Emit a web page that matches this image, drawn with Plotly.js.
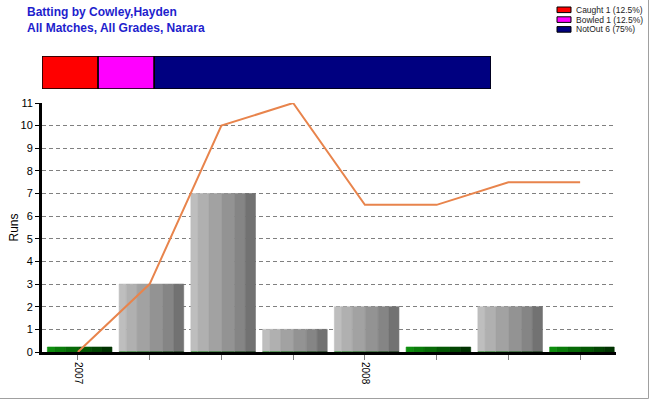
<!DOCTYPE html>
<html>
<head>
<meta charset="utf-8">
<script src="https://cdn.plot.ly/plotly-3.0.1.min.js"></script>
<style>html,body{margin:0;padding:0;background:#fff;}#chart{width:650px;height:400px;}</style>
</head>
<body>
<div id="chart"></div>
<script>
// ---- data ----
const titleLines = ['Batting by Cowley,Hayden', 'All Matches, All Grades, Narara'];
const tickLabels = ['2007', '', '', '', '2008', '', '', ''];
const runs = [0, 3, 7, 1, 2, 0, 2, 0];
const average = [0, 3, 10, 11, 6.5, 6.5, 7.5, 7.5];
const dismissalNames = ['Caught', 'Bowled', 'NotOut'];
const dismissalCounts = [1, 1, 6];
const dismissalColors = ['#FF0000', '#FF00FF', '#000080'];

// ---- styles ----
const greyStripes = ['#BEBEBE', '#B0B0B0', '#A2A2A2', '#939393', '#858585', '#727272'];
const greenStripes = ['#0E8E0E', '#0A7C0A', '#076A07', '#045804', '#024502', '#013301'];
const stripeWidths = [0.10, 0.15, 0.18, 0.18, 0.15, 0.14];
const zeroBarHeight = 0.22;
const FONT = 'Arial, "Liberation Sans", sans-serif';

const W = 650, H = 400, ML = 42, MR = 34, MT = 55, MB = 48;
const PW = W - ML - MR, PH = H - MT - MB;
const px2x = p => (p - ML) / PW;
const px2y = p => (H - MB - p) / PH;

const idx = runs.map((_, i) => i);
const traces = [];
let off = -0.425;
stripeWidths.forEach((w, s) => {
  traces.push({
    type: 'bar', x: idx, y: runs.map(v => v > 0 ? v : 0),
    width: w, offset: off, marker: {color: greyStripes[s], line: {width: 0.6, color: greyStripes[s]}},
    hoverinfo: 'skip', showlegend: false
  });
  traces.push({
    type: 'bar', x: idx, y: runs.map(v => v === 0 ? zeroBarHeight : 0),
    width: w, offset: off, marker: {color: greenStripes[s], line: {width: 0.6, color: greenStripes[s]}},
    hoverinfo: 'skip', showlegend: false
  });
  off += w;
});
traces.push({
  type: 'scatter', mode: 'lines', x: idx, y: average,
  line: {color: '#E8844C', width: 2}, hoverinfo: 'skip', showlegend: false
});

// top stacked dismissal bar
const total = dismissalCounts.reduce((a, b) => a + b, 0);
let base = 0;
dismissalCounts.forEach((c, i) => {
  traces.push({
    type: 'bar', orientation: 'h', x: [c], y: [0], base: [base], width: 1,
    xaxis: 'x2', yaxis: 'y2', cliponaxis: false,
    marker: {color: dismissalColors[i], line: {color: '#000', width: 1.5}},
    hoverinfo: 'skip', showlegend: false
  });
  base += c;
});

const shapes = [];
const annotations = [];
// title
titleLines.forEach((t, i) => {
  annotations.push({xref: 'paper', yref: 'paper', x: px2x(25), y: px2y(12.5 + i * 15),
    xanchor: 'left', yanchor: 'middle', showarrow: false, text: '<b>' + t + '</b>',
    font: {family: FONT, size: 12, color: '#1E1ECD'}});
});
// legend (drawn manually)
dismissalNames.forEach((n, i) => {
  const yc = 9.8 + i * 9.8;
  const pct = Math.round(dismissalCounts[i] / total * 1000) / 10;
  shapes.push({type: 'rect', xref: 'paper', yref: 'paper',
    x0: px2x(557), x1: px2x(571), y0: px2y(yc - 2.8), y1: px2y(yc + 2.8),
    fillcolor: dismissalColors[i], line: {color: '#000', width: 1}});
  annotations.push({xref: 'paper', yref: 'paper', x: px2x(574), y: px2y(yc),
    xanchor: 'left', yanchor: 'middle', showarrow: false,
    text: n + ' ' + dismissalCounts[i] + ' (' + pct + '%)',
    font: {family: FONT, size: 8.5, color: '#222'}});
});
// frame lines on right and bottom of image
shapes.push({type: 'line', xref: 'paper', yref: 'paper', x0: px2x(648.5), x1: px2x(648.5), y0: px2y(0), y1: px2y(398.5), line: {color: '#A0A0A0', width: 1}});
shapes.push({type: 'line', xref: 'paper', yref: 'paper', x0: px2x(0), x1: px2x(648.5), y0: px2y(398.5), y1: px2y(398.5), line: {color: '#A0A0A0', width: 1}});

const layout = {
  width: W, height: H,
  margin: {l: ML, r: MR, t: MT, b: MB, pad: 0},
  paper_bgcolor: '#fff', plot_bgcolor: '#fff',
  barmode: 'overlay', showlegend: false,
  xaxis: {range: [-0.5, 7.5], tickvals: idx, ticktext: tickLabels, tickangle: 90,
    showline: true, linecolor: '#000', linewidth: 3, ticks: 'outside', ticklen: 5,
    tickcolor: '#808080', tickwidth: 1, showgrid: false, zeroline: false,
    tickfont: {family: FONT, size: 10, color: '#000'}, fixedrange: true},
  yaxis: {domain: [0, px2y(103)], range: [0, 11], dtick: 1, tick0: 0,
    showline: true, linecolor: '#000', linewidth: 3, ticks: 'outside', ticklen: 4,
    tickcolor: '#000', showgrid: true, gridcolor: '#808080', griddash: '4px,3px', gridwidth: 1,
    zeroline: false, tickfont: {family: FONT, size: 11, color: '#000'},
    title: {text: 'Runs', font: {family: FONT, size: 12, color: '#000'}, standoff: 0}},
  xaxis2: {domain: [0, px2x(491)], range: [0, total], visible: false, anchor: 'y2'},
  yaxis2: {domain: [px2y(89), px2y(56)], range: [-0.5, 0.5], visible: false, anchor: 'x2'},
  shapes: shapes, annotations: annotations
};

Plotly.newPlot('chart', traces, layout, {staticPlot: true, displayModeBar: false});
</script>
</body>
</html>
